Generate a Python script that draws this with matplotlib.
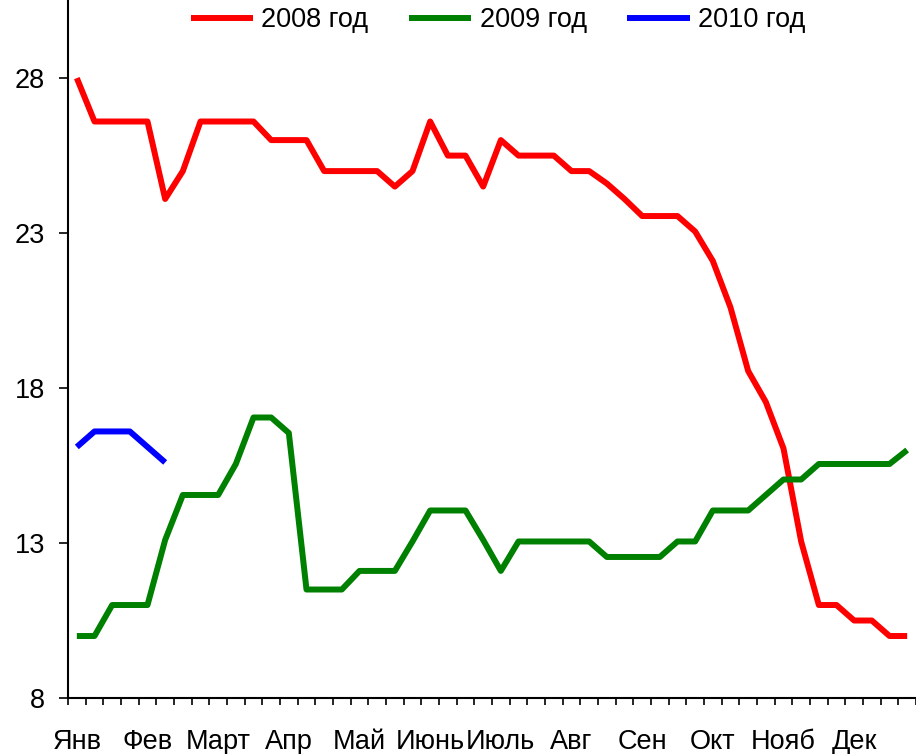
import numpy as np
import matplotlib.pyplot as plt

plt.rcParams['font.family'] = ['Liberation Sans', 'DejaVu Sans']

# weekly values, 48 weeks per year
red_2008 = [28.0, 26.6, 26.6, 26.6, 26.6, 24.1, 25.0, 26.6, 26.6, 26.6, 26.6, 26.0,
            26.0, 26.0, 25.0, 25.0, 25.0, 25.0, 24.5, 25.0, 26.6, 25.5, 25.5, 24.5,
            26.0, 25.5, 25.5, 25.5, 25.0, 25.0, 24.6, 24.1, 23.55, 23.55, 23.55, 23.05,
            22.1, 20.6, 18.55, 17.55, 16.05, 13.05, 11.0, 11.0, 10.5, 10.5, 10.0, 10.0]
green_2009 = [10.0, 10.0, 11.0, 11.0, 11.0, 13.1, 14.55, 14.55, 14.55, 15.55, 17.05, 17.05,
              16.55, 11.5, 11.5, 11.5, 12.1, 12.1, 12.1, 13.05, 14.05, 14.05, 14.05, 13.1,
              12.1, 13.05, 13.05, 13.05, 13.05, 13.05, 12.55, 12.55, 12.55, 12.55, 13.05, 13.05,
              14.05, 14.05, 14.05, 14.55, 15.05, 15.05, 15.55, 15.55, 15.55, 15.55, 15.55, 16.0]
blue_2010 = [16.1, 16.6, 16.6, 16.6, 16.1, 15.6]

months = ['Янв', 'Фев', 'Март', 'Апр', 'Май', 'Июнь',
          'Июль', 'Авг', 'Сен', 'Окт', 'Нояб', 'Дек']
series_names = ['2008 год', '2009 год', '2010 год']

fig = plt.figure(figsize=(9.16, 7.54), dpi=100)
ax = fig.add_axes([68 / 916, 1 - 698 / 754, 848 / 916, 698 / 754])

lw = 4.3
ax.plot(np.arange(len(red_2008)), red_2008, color='#FF0000', lw=lw,
        solid_joinstyle='round', solid_capstyle='butt', label=series_names[0])
ax.plot(np.arange(len(green_2009)), green_2009, color='#008000', lw=lw,
        solid_joinstyle='round', solid_capstyle='butt', label=series_names[1])
ax.plot(np.arange(len(blue_2010)), blue_2010, color='#0000FF', lw=lw,
        solid_joinstyle='round', solid_capstyle='butt', label=series_names[2])

ax.set_xlim(-0.5, 47.5)
ax.set_ylim(8, 30.52)

ax.set_yticks([8, 13, 18, 23, 28])
ax.tick_params(axis='y', direction='out', length=6.5, width=1.2, pad=10, labelsize=19.5)

ax.set_xticks(np.arange(0, 48, 4))
ax.set_xticklabels(months)
ax.set_xticks(np.arange(-0.5, 48, 1), minor=True)
ax.tick_params(axis='x', which='major', length=0, pad=22, labelsize=19.5)
ax.tick_params(axis='x', which='minor', direction='out', length=5, width=1.2)

for s in ['top', 'right']:
    ax.spines[s].set_visible(False)
for s in ['left', 'bottom']:
    ax.spines[s].set_linewidth(1.5)
    ax.spines[s].set_color('black')

fig.legend(loc='center', bbox_to_anchor=(498 / 916, 1 - 20 / 754), ncol=3,
           frameon=False, fontsize=19.5, handlelength=2.3, handletextpad=0.3,
           columnspacing=1.5)

fig.savefig('out.png', dpi=100)
